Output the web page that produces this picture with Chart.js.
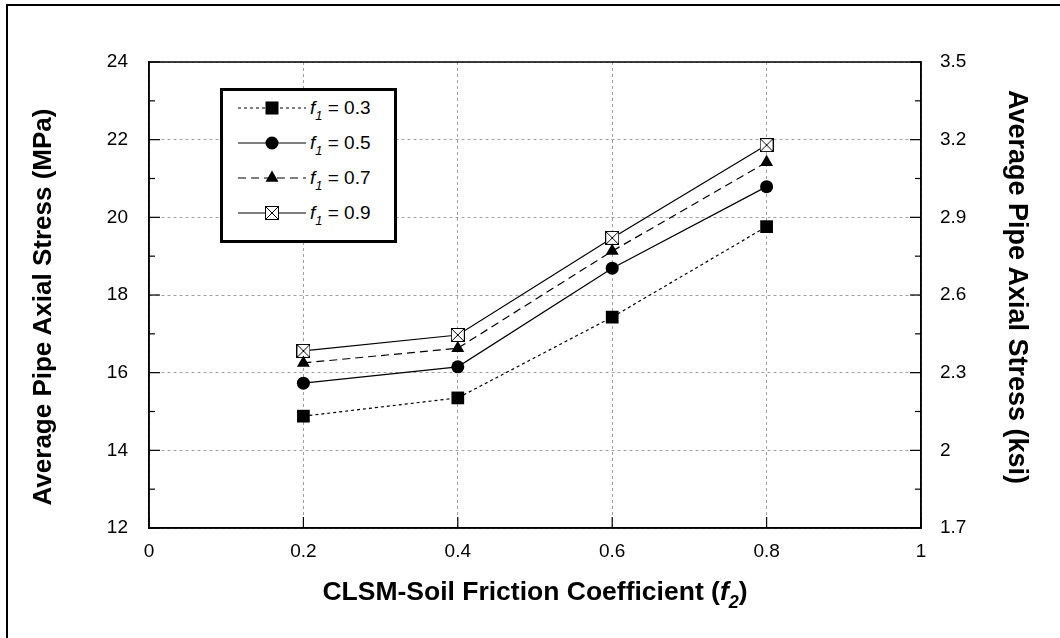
<!DOCTYPE html>
<html>
<head>
<meta charset="utf-8">
<script src="https://cdn.jsdelivr.net/npm/chart.js@4.4.1/dist/chart.umd.min.js"></script>
<style>
  html, body { margin: 0; padding: 0; background: #fff; }
  body { width: 1060px; height: 638px; position: relative; overflow: hidden; font-family: "Liberation Sans", Arial, sans-serif; }
  #frame { position: absolute; left: 6px; top: 4px; width: 1100px; height: 700px; border-left: 2px solid #000; border-top: 2px solid #000; }
  #wrap { position: absolute; left: 0; top: 0; width: 1060px; height: 638px; }
  #legend { position: absolute; left: 220px; top: 88px; width: 177px; height: 155px; box-sizing: border-box; border: 3px solid #000; background: #fff; }
  .row { position: absolute; left: 0; height: 24px; width: 170px; }
  .row svg { position: absolute; left: 15px; top: 0; }
  .row .lbl { position: absolute; left: 87px; top: 0; font-size: 19px; line-height: 24px; color: #000; white-space: nowrap; }
  i { font-style: italic; }
  sub { font-size: 0.68em; vertical-align: -0.45em; line-height: 0; }
  .ytitle { position: absolute; width: 500px; height: 32px; line-height: 32px; text-align: center; font-weight: bold; color: #000; white-space: nowrap; }
  #ytitleL { left: -208px; top: 291px; font-size: 26px; transform: rotate(-90deg); }
  #ytitleR { left: 768px; top: 271px; font-size: 27px; transform: rotate(90deg); }
  #xtitle { position: absolute; left: 149px; width: 772px; top: 575px; text-align: center; font-weight: bold; font-size: 26.5px; line-height: 32px; color: #000; white-space: nowrap; }
</style>
</head>
<body>
<div id="frame"></div>
<div id="wrap"><canvas id="stressChart" width="1060" height="638"></canvas></div>
<div id="legend"></div>
<div class="ytitle" id="ytitleL">Average Pipe Axial Stress (MPa)</div>
<div class="ytitle" id="ytitleR">Average Pipe Axial Stress (ksi)</div>
<div id="xtitle">CLSM-Soil Friction Coefficient (<i>f</i><sub><i>2</i></sub>)</div>
<script>
// Datos
const frictionF2 = [0.2, 0.4, 0.6, 0.8];
const stressF1_03 = [14.88, 15.35, 17.43, 19.76];
const stressF1_05 = [15.73, 16.15, 18.69, 20.79];
const stressF1_07 = [16.25, 16.63, 19.13, 21.42];
const stressF1_09 = [16.56, 16.97, 19.47, 21.86];

const seriesLabels = ["0.3", "0.5", "0.7", "0.9"];

// Marcas de los ejes
const xTicks = [0, 0.2, 0.4, 0.6, 0.8, 1];
const mpaTicks = [12, 14, 16, 18, 20, 22, 24];
const mpaMinor = [13, 15, 17, 19, 21, 23];
const ksiTicks = [1.7, 2, 2.3, 2.6, 2.9, 3.2, 3.5];
const ksiMinor = [1.85, 2.15, 2.45, 2.75, 3.05, 3.35];

const FONT = "'Liberation Sans', Arial, sans-serif";

// Marcador cuadrado con aspa (f1 = 0.9)
function crossBox(size) {
  const c = document.createElement("canvas");
  c.width = size; c.height = size;
  const g = c.getContext("2d");
  g.fillStyle = "#fff";
  g.fillRect(0, 0, size, size);
  g.strokeStyle = "#000";
  g.lineWidth = 1;
  g.strokeRect(0.5, 0.5, size - 1, size - 1);
  g.beginPath();
  g.moveTo(1, 1); g.lineTo(size - 1, size - 1);
  g.moveTo(size - 1, 1); g.lineTo(1, size - 1);
  g.stroke();
  return c;
}

const toPoints = ys => frictionF2.map((x, i) => ({ x, y: ys[i] }));
const fmt = v => String(Math.round(v * 10) / 10);

const styles = [
  { data: stressF1_03, dash: [3, 3], point: "rect", radius: 9 },
  { data: stressF1_05, dash: [], point: "circle", radius: 6.5 },
  { data: stressF1_07, dash: [8, 5], point: "triangle", radius: 7.5 },
  { data: stressF1_09, dash: [], point: crossBox(14), radius: 7 }
];

const datasets = styles.map((s, i) => ({
  label: "f1 = " + seriesLabels[i],
  data: toPoints(s.data),
  yAxisID: "y",
  borderColor: "#000",
  backgroundColor: "#000",
  borderWidth: 1.2,
  borderDash: s.dash,
  pointStyle: s.point,
  pointRadius: s.radius,
  pointBorderWidth: 0,
  pointBackgroundColor: "#000",
  tension: 0
}));

// Marcas hacia dentro y marco del área
const innerTicks = {
  id: "innerTicks",
  afterDatasetsDraw(chart) {
    const { ctx, chartArea: a, scales } = chart;
    ctx.save();
    ctx.strokeStyle = "#000";
    ctx.lineWidth = 1.2;
    ctx.setLineDash([]);
    const line = (x1, y1, x2, y2) => { ctx.beginPath(); ctx.moveTo(x1, y1); ctx.lineTo(x2, y2); ctx.stroke(); };
    mpaTicks.forEach(v => { const y = scales.y.getPixelForValue(v); line(a.left, y, a.left + 11, y); });
    mpaMinor.forEach(v => { const y = scales.y.getPixelForValue(v); line(a.left, y, a.left + 6, y); });
    ksiTicks.forEach(v => { const y = scales.ksi.getPixelForValue(v); line(a.right, y, a.right - 11, y); });
    ksiMinor.forEach(v => { const y = scales.ksi.getPixelForValue(v); line(a.right, y, a.right - 6, y); });
    xTicks.forEach(v => { const x = scales.x.getPixelForValue(v); line(x, a.bottom, x, a.bottom - 11); });
    ctx.lineWidth = 1.5;
    ctx.strokeRect(a.left, a.top, a.right - a.left, a.bottom - a.top);
    ctx.restore();
  }
};

// Rejilla punteada gris (en v4 el guion va en border.dash)
const gridStyle = {
  color: "#a0a0a0",
  lineWidth: 1,
  drawTicks: false
};
const dottedBorder = { display: true, color: "#000", width: 1.5, dash: [3, 3] };

new Chart(document.getElementById("stressChart"), {
  type: "line",
  data: { datasets },
  options: {
    responsive: false,
    animation: false,
    layout: { padding: { top: 62, left: 0, right: 0, bottom: 0 }, autoPadding: false },
    plugins: { legend: { display: false }, tooltip: { enabled: false } },
    scales: {
      x: {
        type: "linear",
        min: 0,
        max: 1,
        afterBuildTicks: s => { s.ticks = xTicks.map(value => ({ value })); },
        afterFit: s => { s.height = 110; },
        ticks: { color: "#000", padding: 12, font: { family: FONT, size: 19 }, maxRotation: 0, callback: fmt },
        grid: gridStyle,
        border: dottedBorder
      },
      y: {
        type: "linear",
        position: "left",
        min: 12,
        max: 24,
        afterBuildTicks: s => { s.ticks = mpaTicks.map(value => ({ value })); },
        afterFit: s => { s.width = 149; },
        ticks: { color: "#000", padding: 21, font: { family: FONT, size: 19 } },
        grid: gridStyle,
        border: dottedBorder
      },
      ksi: {
        type: "linear",
        position: "right",
        min: 1.7,
        max: 3.5,
        afterBuildTicks: s => { s.ticks = ksiTicks.map(value => ({ value })); },
        afterFit: s => { s.width = 139; },
        ticks: { color: "#000", padding: 19, font: { family: FONT, size: 19 }, callback: fmt },
        grid: { drawOnChartArea: false, drawTicks: false },
        border: { display: true, color: "#000", width: 1.5 }
      }
    }
  },
  plugins: [innerTicks]
});

// Leyenda en HTML (subíndices en cursiva)
function markerSvg(i) {
  const cx = 34, cy = 12;
  const dash = styles[i].dash.length ? `stroke-dasharray="${styles[i].dash.join(" ")}"` : "";
  let mark = "";
  if (i === 0) mark = `<rect x="${cx - 6.5}" y="${cy - 6.5}" width="13" height="13" fill="#000"/>`;
  if (i === 1) mark = `<circle cx="${cx}" cy="${cy}" r="6.5" fill="#000"/>`;
  if (i === 2) mark = `<polygon points="${cx},${cy - 7.5} ${cx + 6.5},${cy + 3.75} ${cx - 6.5},${cy + 3.75}" fill="#000"/>`;
  if (i === 3) mark = `<rect x="${cx - 6.5}" y="${cy - 6.5}" width="13" height="13" fill="#fff" stroke="#000" stroke-width="1"/>
    <path d="M${cx - 6} ${cy - 6} L${cx + 6} ${cy + 6} M${cx + 6} ${cy - 6} L${cx - 6} ${cy + 6}" stroke="#000" stroke-width="1"/>`;
  return `<svg width="70" height="24"><line x1="0" y1="${cy}" x2="68" y2="${cy}" stroke="#000" stroke-width="1.2" ${dash}/>${mark}</svg>`;
}

const legendEl = document.getElementById("legend");
const legendTop = 88 + 3;
const rowCenters = [108, 143, 178, 213];
seriesLabels.forEach((lab, i) => {
  const row = document.createElement("div");
  row.className = "row";
  row.style.top = (rowCenters[i] - legendTop - 12) + "px";
  row.innerHTML = markerSvg(i) + `<span class="lbl"><i>f</i><sub><i>1</i></sub> = ${lab}</span>`;
  legendEl.appendChild(row);
});
</script>
</body>
</html>
